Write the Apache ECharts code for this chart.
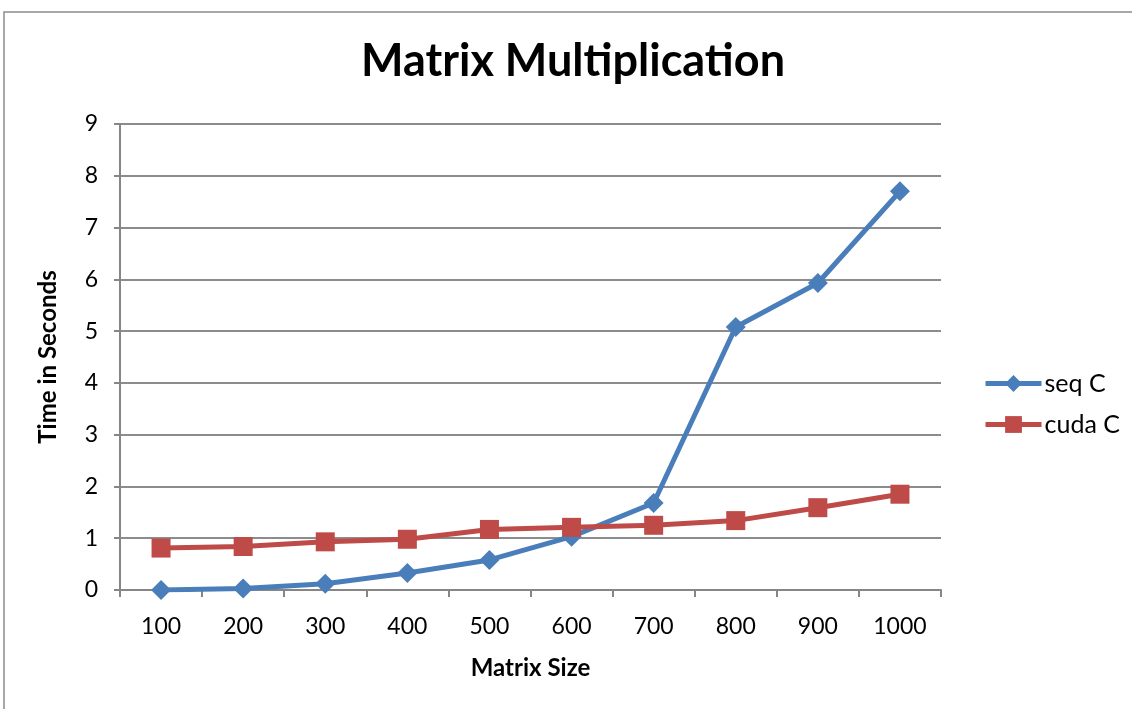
<!DOCTYPE html>
<html>
<head>
<meta charset="utf-8">
<script src="https://cdn.jsdelivr.net/npm/echarts@6/dist/echarts.min.js"></script>
<style>
  html, body { margin: 0; padding: 0; background: #fff; }
  #main { width: 1132px; height: 709px; }
</style>
</head>
<body>
<div id="main"></div>
<script>
var chartDom = document.getElementById('main');
var myChart = echarts.init(chartDom);

// data
var sizes = ['100', '200', '300', '400', '500', '600', '700', '800', '900', '1000'];
var seqC = [0, 0.03, 0.12, 0.33, 0.58, 1.03, 1.68, 5.08, 5.93, 7.70];
var cudaC = [0.81, 0.84, 0.93, 0.98, 1.17, 1.21, 1.25, 1.34, 1.59, 1.85];

var font = 'Lato, "Open Sans", sans-serif';

myChart.setOption({
  animation: false,
  backgroundColor: '#fff',
  graphic: [{
    type: 'rect',
    shape: { x: 4, y: 12, width: 1140, height: 720 },
    style: { fill: 'none', stroke: '#8c8c8c', lineWidth: 1.5 }
  }],
  title: {
    text: 'Matrix Multiplication',
    left: 356,
    top: 34,
    textStyle: { fontFamily: font, fontSize: 45, fontWeight: 'bold', color: '#000' }
  },
  legend: {
    orient: 'vertical',
    left: 978,
    top: 366,
    itemWidth: 56,
    itemHeight: 21,
    itemGap: 16,
    lineStyle: { width: 5 },
    textStyle: { fontFamily: font, fontSize: 25, color: '#000', padding: [0, 0, 0, -2] },
    data: ['seq C', 'cuda C']
  },
  grid: { left: 120, right: 191, top: 124, bottom: 119 },
  xAxis: {
    type: 'category',
    data: sizes,
    boundaryGap: true,
    name: 'Matrix Size',
    nameLocation: 'middle',
    nameGap: 66,
    nameTextStyle: { fontFamily: font, fontSize: 24, fontWeight: 'bold', color: '#000' },
    axisLine: { lineStyle: { color: '#868686', width: 2 } },
    axisTick: { show: true, length: 7, lineStyle: { color: '#868686', width: 2 } },
    axisLabel: { fontFamily: font, fontSize: 23, color: '#000', margin: 25 }
  },
  yAxis: {
    type: 'value',
    min: 0,
    max: 9,
    interval: 1,
    name: 'Time in Seconds',
    nameLocation: 'middle',
    nameGap: 60,
    nameTextStyle: { fontFamily: font, fontSize: 24, fontWeight: 'bold', color: '#000' },
    axisLine: { show: true, lineStyle: { color: '#868686', width: 2 } },
    axisTick: { show: true, length: 6, lineStyle: { color: '#868686', width: 2 } },
    axisLabel: { fontFamily: font, fontSize: 23, color: '#000', margin: 22 },
    splitLine: { lineStyle: { color: '#8c8c8c', width: 2 } }
  },
  series: [
    {
      name: 'seq C',
      type: 'line',
      data: seqC,
      symbol: 'diamond',
      symbolSize: 20,
      color: '#4a7ebb',
      lineStyle: { width: 5, color: '#4a7ebb' },
      itemStyle: { color: '#4a7ebb' }
    },
    {
      name: 'cuda C',
      type: 'line',
      data: cudaC,
      symbol: 'rect',
      symbolSize: 19,
      color: '#be4b48',
      lineStyle: { width: 5, color: '#be4b48' },
      itemStyle: { color: '#be4b48' }
    }
  ]
});
</script>
</body>
</html>
